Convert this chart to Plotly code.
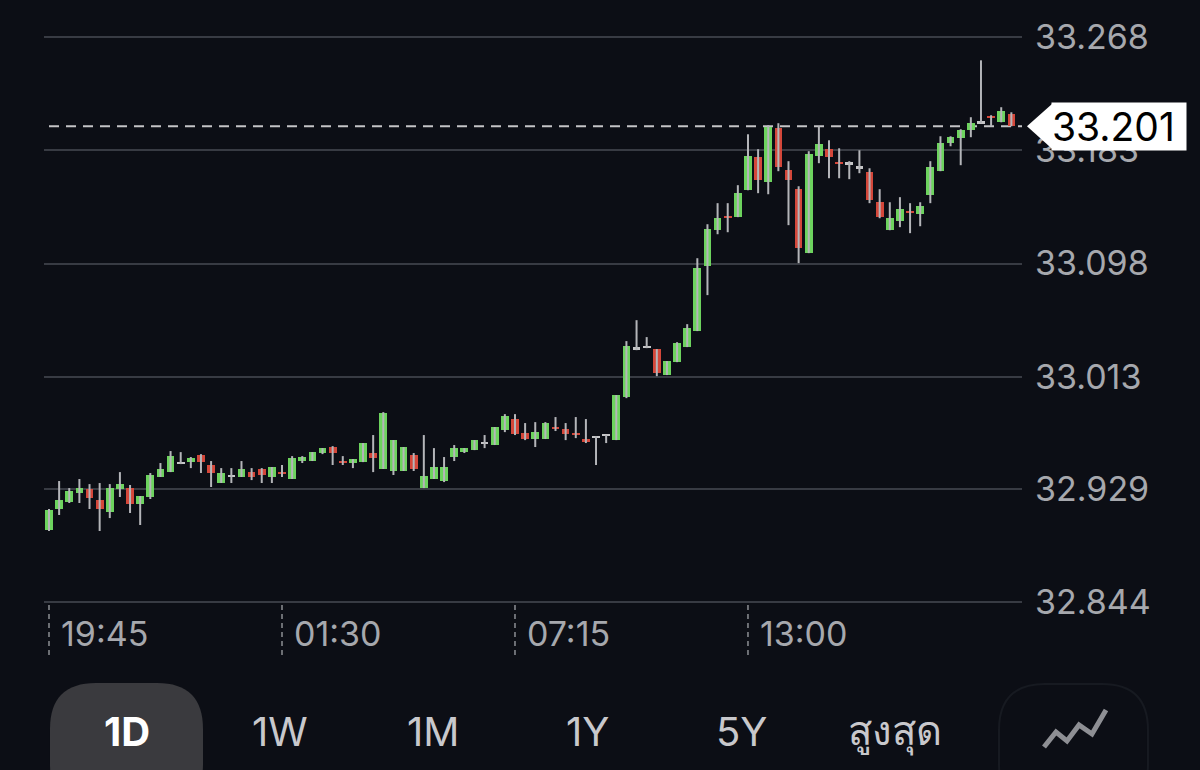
import plotly.graph_objects as go
import pandas as pd

# ---------------- data ----------------
start = "2024-05-01 19:45"
times = pd.date_range(start, periods=96, freq="15min")

opens = [32.898, 32.9138, 32.919, 32.9258, 32.9288, 32.9205, 32.9115, 32.9288, 32.9295, 32.9175,
         32.9228, 32.9378, 32.9415, 32.9483, 32.949, 32.9543, 32.9468, 32.9333, 32.9385, 32.9378,
         32.9415, 32.9438, 32.9378, 32.9415, 32.9363, 32.9498, 32.9498, 32.9558, 32.9603, 32.9498,
         32.9483, 32.949, 32.9558, 32.9438, 32.9423, 32.9423, 32.9543, 32.9295, 32.9363, 32.9348,
         32.9528, 32.9565, 32.958, 32.9633, 32.9618, 32.973, 32.9813, 32.9708, 32.9663, 32.9663,
         32.9753, 32.9738, 32.9708, 32.9663, 32.9678, 32.9693, 32.9655, 32.9978, 33.0345, 33.0353,
         33.0338, 33.0143, 33.024, 33.0353, 33.0473, 33.096, 33.123, 33.1335, 33.1328, 33.153,
         33.1778, 33.159, 33.1995, 33.168, 33.1538, 33.1058, 33.1785, 33.1838, 33.174, 33.1733,
         33.1703, 33.1665, 33.144, 33.123, 33.1298, 33.1373, 33.135, 33.1493, 33.1673, 33.1883,
         33.192, 33.198, 33.204, 33.2085, 33.204, 33.21]

highs = [32.9138, 32.9348, 32.9295, 32.9363, 32.9325, 32.9333, 32.9325, 32.9415, 32.9318, 32.9235,
         32.9408, 32.9483, 32.9573, 32.9565, 32.9528, 32.955, 32.9498, 32.9445, 32.9445, 32.9498,
         32.9445, 32.9445, 32.9453, 32.9468, 32.9535, 32.9535, 32.9565, 32.9595, 32.961, 32.9535,
         32.9513, 32.9633, 32.9693, 32.9865, 32.9655, 32.9603, 32.9558, 32.9693, 32.9595, 32.9528,
         32.9618, 32.9595, 32.9655, 32.9693, 32.9753, 32.985, 32.985, 32.9783, 32.979, 32.979,
         32.9828, 32.9783, 32.9828, 32.9813, 32.9685, 32.9693, 32.9993, 33.0398, 33.0555, 33.0428,
         33.0338, 33.0248, 33.039, 33.0525, 33.102, 33.1275, 33.1433, 33.1433, 33.1568, 33.195,
         33.1838, 33.2018, 33.2033, 33.1748, 33.156, 33.1823, 33.201, 33.1905, 33.1845, 33.1748,
         33.183, 33.1695, 33.1538, 33.144, 33.1478, 33.1433, 33.144, 33.1748, 33.1935, 33.1935,
         33.1988, 33.2078, 33.2505, 33.2093, 33.2153, 33.2115]

lows = [32.8973, 32.9093, 32.9183, 32.9183, 32.9138, 32.8973, 32.907, 32.9228, 32.9108, 32.9018,
        32.9213, 32.9378, 32.9415, 32.9475, 32.9445, 32.9408, 32.9303, 32.9333, 32.9333, 32.9378,
        32.9355, 32.9333, 32.9333, 32.9378, 32.9363, 32.9483, 32.9498, 32.955, 32.9468, 32.9468,
        32.9445, 32.949, 32.9415, 32.9438, 32.9393, 32.9423, 32.9423, 32.9295, 32.9363, 32.934,
        32.9498, 32.9558, 32.958, 32.9595, 32.9618, 32.9715, 32.9693, 32.9655, 32.9603, 32.9663,
        32.9723, 32.9655, 32.967, 32.9633, 32.9468, 32.9633, 32.9655, 32.997, 33.033, 33.0345,
        33.0135, 33.0143, 33.024, 33.0353, 33.0473, 33.0743, 33.12, 33.1215, 33.1328, 33.153,
        33.1508, 33.15, 33.1673, 33.1268, 33.0983, 33.1058, 33.1733, 33.162, 33.162, 33.1613,
        33.1658, 33.1433, 33.132, 33.123, 33.1253, 33.1208, 33.126, 33.1433, 33.1673, 33.186,
        33.1718, 33.1928, 33.2033, 33.201, 33.204, 33.201]

closes = [32.913, 32.9205, 32.9273, 32.9295, 32.922, 32.9138, 32.9295, 32.9325, 32.9175, 32.9235,
          32.9393, 32.9438, 32.9535, 32.9483, 32.952, 32.949, 32.9408, 32.9408, 32.9385, 32.9438,
          32.9378, 32.9393, 32.9453, 32.94, 32.952, 32.9528, 32.9565, 32.9595, 32.9558, 32.9483,
          32.9513, 32.9633, 32.952, 32.9858, 32.9655, 32.9603, 32.9438, 32.9385, 32.9453, 32.9453,
          32.9595, 32.9595, 32.9655, 32.9633, 32.9753, 32.9835, 32.97, 32.9663, 32.9715, 32.9783,
          32.9738, 32.97, 32.9693, 32.964, 32.9678, 32.9693, 32.9993, 33.036, 33.0345, 33.0353,
          33.0158, 33.0248, 33.0383, 33.0495, 33.0945, 33.1238, 33.132, 33.132, 33.1508, 33.1785,
          33.1605, 33.2003, 33.1703, 33.1605, 33.1095, 33.18, 33.1875, 33.1778, 33.1725, 33.1733,
          33.1703, 33.1455, 33.1328, 33.132, 33.1388, 33.1358, 33.141, 33.1703, 33.1883, 33.1928,
          33.198, 33.2033, 33.204, 33.207, 33.2123, 33.201]

y_ticks = [32.844, 32.929, 33.013, 33.098, 33.183, 33.268]
x_tick_times = ["2024-05-01 19:45", "2024-05-02 01:30", "2024-05-02 07:15", "2024-05-02 13:00"]
x_tick_labels = ["19:45", "01:30", "07:15", "13:00"]
range_buttons = ["1D", "1W", "1M", "1Y", "5Y", "สูงสุด"]

# ---------------- styles ----------------
BG = "#0c0e15"
GRID = "#383b43"
GREEN = "#6dd35e"
RED = "#d4473a"
DOJI = "#c6c6c8"
WICK = "#b4b5b9"
TICK = "#a6a8ad"
FONT = "Inter, Roboto, 'Noto Sans', sans-serif"

L_PX, R_PX, T_PX, B_PX = 44, 1022, 20, 659
W, H = 1200, 770
PX_PER_UNIT = 1 / 0.00075
y_top = 33.268 + (37 - T_PX) / PX_PER_UNIT
y_bot = 32.844 - (B_PX - 602) / PX_PER_UNIT
y_range = [y_bot, y_top]
step = pd.Timedelta(minutes=15)
x_range = [times[0] - step * 0.494, times[0] + step * 96.05]


def px2paper(px, py):
    return (px - L_PX) / (R_PX - L_PX), (B_PX - py) / (B_PX - T_PX)


def P(px, py):
    x, y = px2paper(px, py)
    return f"{x:.5f},{y:.5f}"


def rrect(x0, y0, x1, y1, r):
    return (f"M {P(x0 + r, y0)} L {P(x1 - r, y0)} Q {P(x1, y0)} {P(x1, y0 + r)} "
            f"L {P(x1, y1 - r)} Q {P(x1, y1)} {P(x1 - r, y1)} L {P(x0 + r, y1)} "
            f"Q {P(x0, y1)} {P(x0, y1 - r)} L {P(x0, y0 + r)} Q {P(x0, y0)} {P(x0 + r, y0)} Z")


# ---------------- traces ----------------
wx, wy = [], []
for t, lo, hi in zip(times, lows, highs):
    wx += [t, t, None]
    wy += [lo, hi, None]

eps = 0.0013
base, height, colors = [], [], []
for o, c in zip(opens, closes):
    if c > o:
        colors.append(GREEN)
    elif c < o:
        colors.append(RED)
    else:
        colors.append(DOJI)
    hgt = abs(c - o)
    if hgt < eps:
        mid = (o + c) / 2
        base.append(mid - eps / 2)
        height.append(eps)
    else:
        base.append(min(o, c))
        height.append(hgt)

fig = go.Figure()
fig.add_trace(go.Scatter(x=wx, y=wy, mode="lines", line=dict(color=WICK, width=2),
                         hoverinfo="skip", showlegend=False))
fig.add_trace(go.Bar(x=times, y=height, base=base, marker=dict(color=colors, line=dict(width=0)),
                     width=0.76 * 15 * 60 * 1000, showlegend=False))

last = closes[-1]

shapes = []
# last price dashed line
shapes.append(dict(type="line", xref="x", yref="y", x0=times[0], x1=x_range[1], y0=last, y1=last,
                   line=dict(color="#c4c4c6", width=2, dash="10px,7px"), layer="below"))
# dashed tick markers under the chart
for t in x_tick_times:
    shapes.append(dict(type="line", xref="x", yref="y", x0=t, x1=t, y0=32.844 - 53 / PX_PER_UNIT,
                       y1=y_ticks[0], line=dict(color="#8c8e93", width=1.5, dash="5px,4px")))
# price tag arrow
xt, _ = px2paper(1027, 0)
xb, _ = px2paper(1052, 0)
shapes.append(dict(type="path", xref="paper", yref="y",
                   path=f"M {xt},{last} L {xb},{last + 0.0168} L {xb},{last - 0.0168} Z",
                   fillcolor="white", line=dict(width=0)))
# range selector pill
shapes.append(dict(type="path", xref="paper", yref="paper", path=rrect(50, 683, 203, 810, 46),
                   fillcolor="#3a3a3e", line=dict(width=0)))
# chart icon pill outline
shapes.append(dict(type="path", xref="paper", yref="paper", path=rrect(999, 684, 1148, 810, 46),
                   fillcolor="rgba(0,0,0,0)", line=dict(color="#171a21", width=2)))
# zig-zag icon
pts = [(1044, 747), (1056, 732), (1067, 741), (1079, 725), (1092, 734), (1106, 710)]
zz = "M " + " L ".join(P(a, b) for a, b in pts)
shapes.append(dict(type="path", xref="paper", yref="paper", path=zz,
                   line=dict(color="#8e8f94", width=5)))

annotations = []
annotations.append(dict(xref="paper", yref="y", x=1, y=last, xanchor="left", yanchor="middle",
                        xshift=29, text=f"{last:.3f}", showarrow=False, bgcolor="white",
                        borderpad=0, align="left", width=134,
                        font=dict(family=FONT, size=39, color="black")))
btn_x = [127, 280, 433, 587, 741, 895]
for i, (lab, bx) in enumerate(zip(range_buttons, btn_x)):
    x, y = px2paper(bx, 731)
    annotations.append(dict(xref="paper", yref="paper", x=x, y=y, xanchor="center", yanchor="middle",
                            text=f"<b>{lab}</b>" if i == 0 else lab, showarrow=False,
                            font=dict(family=FONT, size=40, color="white" if i == 0 else "#c8c8cc")))

fig.update_layout(
    width=W, height=H,
    margin=dict(l=L_PX, r=W - R_PX, t=T_PX, b=H - B_PX),
    paper_bgcolor=BG, plot_bgcolor=BG,
    showlegend=False, bargap=0,
    shapes=shapes, annotations=annotations,
    xaxis=dict(type="date", range=x_range, showgrid=False, zeroline=False, showline=False,
               tickvals=x_tick_times, ticktext=x_tick_labels, ticks="",
               ticklabelposition="inside right", ticklabelshift=12,
               tickfont=dict(family=FONT, size=34, color=TICK), fixedrange=True),
    yaxis=dict(side="right", range=y_range, tickvals=y_ticks, ticktext=[f"{v:.3f}" for v in y_ticks],
               showgrid=True, gridcolor=GRID, gridwidth=2, zeroline=False, showline=False, ticks="",
               ticklabelstandoff=12,
               tickfont=dict(family=FONT, size=34, color=TICK), fixedrange=True),
)

fig.write_html("out.html")
